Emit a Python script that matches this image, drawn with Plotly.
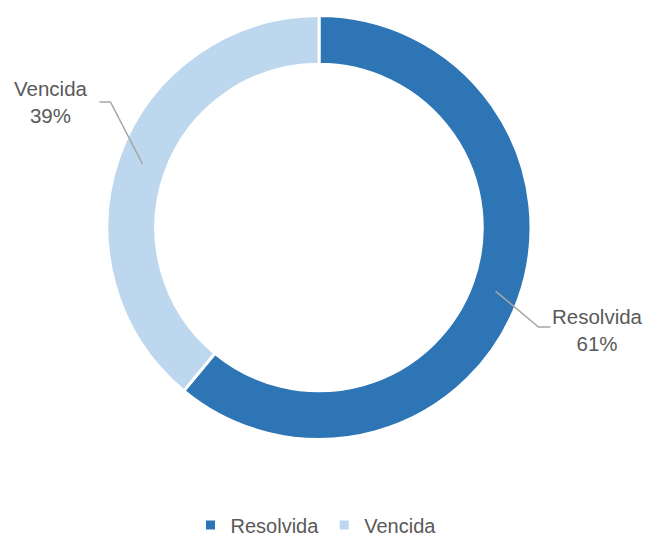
import math
import plotly.graph_objects as go

labels = ["Resolvida", "Vencida"]
values = [61, 39]
colors = ["#2E75B6", "#BDD7EE"]

# the page body adds an 8px margin around the figure
OFF = 8
W, H = 637, 528
CX, CY, R = 319, 227.5, 212
HOLE = 0.77
FONT = "Liberation Sans"
TXT = "#595959"

def px(x):
    return (x - OFF) / W

def py(y):
    return 1 - (y - OFF) / H

fig = go.Figure(go.Pie(
    labels=labels, values=values, sort=False, direction="clockwise", rotation=0,
    hole=HOLE, marker=dict(colors=colors, line=dict(color="white", width=3)),
    textinfo="none", hoverinfo="label+percent",
    domain=dict(x=[px(CX - R), px(CX + R)], y=[py(CY + R), py(CY - R)]),
))

total = sum(values)
cum = 0
shapes, annotations = [], []
mid_r = R * (1 + HOLE) / 2
for lab, v in zip(labels, values):
    mid = (cum + v / 2) / total * 2 * math.pi
    cum += v
    dx, dy = math.sin(mid), -math.cos(mid)
    x0, y0 = CX + mid_r * dx, CY + mid_r * dy
    if dx > 0:
        x1, y1 = x0 + 43, y0 + 36
        x2 = x1 + 12
        tx, ty = x2 + 47, y1 + 2.5
    else:
        x1, y1 = x0 - 32, y0 - 62
        x2 = x1 - 11
        tx, ty = x2 - 48, y1 + 0.5
    pts = [(x0, y0), (x1, y1), (x2, y1)]
    path = "M " + " L ".join(f"{px(a)},{py(b)}" for a, b in pts)
    shapes.append(dict(type="path", xref="paper", yref="paper", path=path,
                       line=dict(color="#A6A6A6", width=1.5)))
    pct = round(v / total * 100)
    annotations.append(dict(
        x=px(tx), y=py(ty), xref="paper", yref="paper",
        text=f"{lab}<br>{pct}%", showarrow=False, align="center",
        xanchor="center", yanchor="middle",
        font=dict(family=FONT, size=20.5, color=TXT),
    ))

fig.update_layout(
    width=W, height=H, margin=dict(l=0, r=0, t=0, b=0, autoexpand=False),
    paper_bgcolor="white", plot_bgcolor="white",
    shapes=shapes, annotations=annotations,
    showlegend=True,
    legend=dict(orientation="h", x=px(316), xanchor="center", y=py(525), yanchor="middle",
                font=dict(family=FONT, size=20, color=TXT), itemwidth=30,
                traceorder="normal", bgcolor="rgba(0,0,0,0)"),
)

fig.write_html("out.html")
